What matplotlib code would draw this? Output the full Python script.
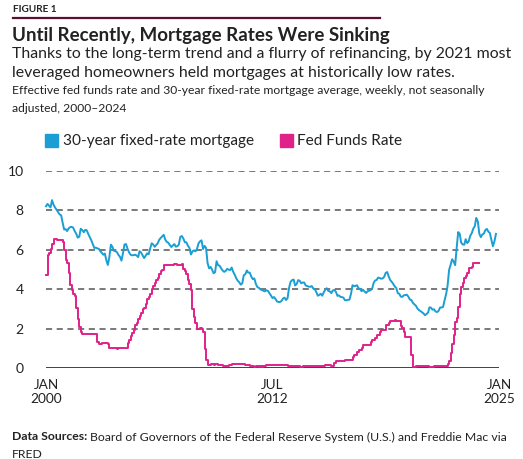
import numpy as np
import pandas as pd
import matplotlib
matplotlib.use("Agg")
import matplotlib.pyplot as plt
import matplotlib.dates as mdates

# 30-year fixed-rate mortgage, monthly average (%), Jan 2000 - Nov 2024
mortgage = [
    8.21, 8.33, 8.24, 8.15, 8.52, 8.29, 8.15, 8.03, 7.91, 7.80, 7.75, 7.38,
    7.03, 7.05, 6.95, 7.08, 7.15, 7.16, 7.13, 6.95, 6.82, 6.62, 6.66, 7.07,
    7.00, 6.89, 7.01, 6.99, 6.81, 6.65, 6.49, 6.29, 6.09, 6.11, 6.07, 6.05,
    5.92, 5.84, 5.75, 5.81, 5.48, 5.23, 5.63, 6.26, 6.15, 5.95, 5.93, 5.88,
    5.74, 5.64, 5.45, 5.83, 6.27, 6.29, 6.06, 5.87, 5.75, 5.72, 5.73, 5.75,
    5.71, 5.63, 5.93, 5.86, 5.72, 5.58, 5.70, 5.82, 5.77, 6.07, 6.33, 6.27,
    6.15, 6.25, 6.32, 6.51, 6.60, 6.68, 6.76, 6.52, 6.40, 6.36, 6.24, 6.14,
    6.22, 6.29, 6.16, 6.18, 6.26, 6.66, 6.70, 6.57, 6.38, 6.38, 6.21, 6.10,
    5.76, 5.92, 5.97, 5.92, 6.04, 6.32, 6.43, 6.48, 6.04, 6.20, 6.09, 5.33,
    5.06, 5.13, 5.00, 4.81, 4.86, 5.42, 5.22, 5.19, 5.06, 4.95, 4.88, 4.93,
    5.03, 4.99, 4.97, 5.10, 4.89, 4.74, 4.56, 4.43, 4.35, 4.23, 4.30, 4.71,
    4.76, 4.95, 4.84, 4.84, 4.64, 4.51, 4.55, 4.27, 4.11, 4.07, 3.99, 3.96,
    3.92, 3.89, 3.95, 3.91, 3.80, 3.68, 3.55, 3.60, 3.50, 3.38, 3.35, 3.35,
    3.41, 3.53, 3.57, 3.45, 3.54, 4.07, 4.37, 4.46, 4.49, 4.19, 4.26, 4.46,
    4.43, 4.30, 4.34, 4.34, 4.19, 4.16, 4.13, 4.12, 4.16, 4.04, 4.00, 3.86,
    3.67, 3.71, 3.77, 3.67, 3.84, 3.98, 4.05, 3.91, 3.89, 3.80, 3.94, 3.96,
    3.87, 3.66, 3.69, 3.61, 3.60, 3.57, 3.44, 3.44, 3.46, 3.47, 3.77, 4.20,
    4.15, 4.17, 4.20, 4.05, 4.01, 3.90, 3.97, 3.88, 3.81, 3.90, 3.92, 3.95,
    4.03, 4.33, 4.44, 4.47, 4.59, 4.57, 4.53, 4.55, 4.63, 4.83, 4.87, 4.64,
    4.46, 4.37, 4.27, 4.14, 4.07, 3.80, 3.77, 3.62, 3.61, 3.69, 3.70, 3.72,
    3.62, 3.47, 3.45, 3.31, 3.23, 3.16, 3.02, 2.94, 2.89, 2.83, 2.77, 2.68,
    2.74, 2.81, 3.08, 3.06, 2.96, 2.98, 2.87, 2.84, 2.90, 3.07, 3.07, 3.10,
    3.45, 3.76, 4.17, 4.98, 5.23, 5.52, 5.41, 5.22, 6.11, 6.90, 6.81, 6.36,
    6.27, 6.26, 6.54, 6.34, 6.43, 6.71, 6.84, 7.07, 7.20, 7.62, 7.44, 6.82,
    6.64, 6.78, 6.82, 7.00, 7.06, 6.92, 6.85, 6.50, 6.18, 6.43, 6.81,
]

# Effective federal funds rate, monthly (%), Jan 2000 - Dec 2023
fed_funds = [
    4.70, 5.73, 5.85, 6.02, 6.27, 6.53, 6.54, 6.50, 6.52, 6.51, 6.51, 6.40,
    5.98, 5.49, 5.31, 4.80, 4.21, 3.97, 3.77, 3.65, 3.07, 2.49, 2.09, 1.82,
    1.73, 1.74, 1.73, 1.75, 1.75, 1.75, 1.73, 1.74, 1.75, 1.75, 1.34, 1.24,
    1.24, 1.26, 1.25, 1.26, 1.26, 1.22, 1.01, 1.03, 1.01, 1.01, 1.00, 0.98,
    1.00, 1.01, 1.00, 1.00, 1.00, 1.03, 1.26, 1.43, 1.61, 1.76, 1.93, 2.16,
    2.28, 2.50, 2.63, 2.79, 3.00, 3.04, 3.26, 3.50, 3.62, 3.78, 4.00, 4.16,
    4.29, 4.49, 4.59, 4.79, 4.94, 4.99, 5.24, 5.25, 5.25, 5.25, 5.25, 5.24,
    5.25, 5.26, 5.26, 5.25, 5.25, 5.25, 5.26, 5.02, 4.94, 4.76, 4.49, 4.24,
    3.94, 2.98, 2.61, 2.28, 1.98, 2.00, 2.01, 2.00, 1.81, 0.97, 0.39, 0.16,
    0.15, 0.22, 0.18, 0.15, 0.18, 0.21, 0.16, 0.16, 0.15, 0.12, 0.12, 0.12,
    0.11, 0.13, 0.16, 0.20, 0.20, 0.18, 0.18, 0.19, 0.19, 0.19, 0.19, 0.18,
    0.17, 0.16, 0.14, 0.10, 0.09, 0.09, 0.07, 0.10, 0.08, 0.07, 0.08, 0.07,
    0.08, 0.10, 0.13, 0.14, 0.16, 0.16, 0.16, 0.13, 0.14, 0.16, 0.16, 0.16,
    0.14, 0.15, 0.14, 0.15, 0.11, 0.09, 0.09, 0.08, 0.08, 0.09, 0.08, 0.09,
    0.07, 0.07, 0.08, 0.09, 0.09, 0.10, 0.09, 0.09, 0.09, 0.09, 0.09, 0.12,
    0.11, 0.11, 0.11, 0.12, 0.12, 0.13, 0.13, 0.14, 0.14, 0.12, 0.12, 0.24,
    0.34, 0.38, 0.36, 0.37, 0.37, 0.38, 0.39, 0.40, 0.40, 0.40, 0.41, 0.54,
    0.65, 0.66, 0.79, 0.90, 0.91, 1.04, 1.15, 1.16, 1.15, 1.15, 1.16, 1.30,
    1.41, 1.42, 1.51, 1.69, 1.70, 1.82, 1.91, 1.91, 1.95, 2.19, 2.20, 2.27,
    2.40, 2.40, 2.41, 2.42, 2.39, 2.38, 2.40, 2.13, 2.04, 1.83, 1.55, 1.55,
    1.55, 1.58, 0.65, 0.05, 0.05, 0.08, 0.09, 0.10, 0.09, 0.09, 0.09, 0.09,
    0.09, 0.08, 0.07, 0.07, 0.06, 0.08, 0.10, 0.09, 0.08, 0.08, 0.08, 0.08,
    0.08, 0.08, 0.20, 0.33, 0.77, 1.21, 1.68, 2.33, 2.56, 3.08, 3.78, 4.10,
    4.33, 4.57, 4.65, 4.83, 5.06, 5.08, 5.12, 5.33, 5.33, 5.33, 5.33, 5.33,
]

y_ticks = [0, 2, 4, 6, 8, 10]
x_ticks = ["2000-01-01", "2012-07-01", "2025-01-01"]
x_tick_labels = ["JAN\n2000", "JUL\n2012", "JAN\n2025"]

BLUE = "#1a9ed4"
PINK = "#e0218a"
TEXT = "#222222"

W, H = 523, 459
plt.rcParams["font.family"] = ["Lato", "DejaVu Sans"]

fig = plt.figure(figsize=(W / 100, H / 100), dpi=100)


def px(x, y):
    return x / W, 1 - y / H


mort_dates = pd.date_range("2000-01-01", periods=len(mortgage), freq="MS")
fed_dates = pd.date_range("2000-01-01", periods=len(fed_funds), freq="MS")

left, right, top, bottom = 46, 499, 171, 368
ax = fig.add_axes([left / W, (H - bottom) / H, (right - left) / W, (bottom - top) / H])
ax.set_facecolor("none")

for v in y_ticks[1:]:
    ax.axhline(v, color="#555555", lw=1.1, ls=(0, (4, 3)), zorder=1)
ax.axhline(0, color="#222222", lw=1.2, zorder=3)

ax.plot(mort_dates, mortgage, color=BLUE, lw=1.4, zorder=4, clip_on=False)
ax.plot(fed_dates, fed_funds, color=PINK, lw=1.4, drawstyle="steps-post",
        zorder=5, clip_on=False)

ax.set_xlim(pd.Timestamp("2000-01-01"), pd.Timestamp("2025-01-01"))
ax.set_ylim(0, 10)
ax.set_yticks(y_ticks)
ax.set_yticklabels([str(v) for v in y_ticks], fontsize=10, color=TEXT)
ax.set_xticks([pd.Timestamp(t) for t in x_ticks])
ax.set_xticklabels(x_tick_labels, fontsize=9.8, color=TEXT, linespacing=1.2)
ax.tick_params(axis="both", length=0)
ax.tick_params(axis="y", pad=16)
ax.tick_params(axis="x", pad=8)
for s in ax.spines.values():
    s.set_visible(False)

# header
fig.text(*px(13, 10), "FIGURE 1", fontsize=7.2, fontweight="bold", color=TEXT,
         va="center", ha="left")
fig.add_artist(plt.Line2D([13 / W, 380 / W], [1 - 17.5 / H, 1 - 17.5 / H],
                          color="#5a0f2e", lw=1.6))
fig.text(*px(12, 35), "Until Recently, Mortgage Rates Were Sinking", fontsize=13.5,
         fontweight="bold", color=TEXT, va="center", ha="left")
fig.text(*px(12, 54), "Thanks to the long-term trend and a flurry of refinancing, by 2021 most",
         fontsize=11.4, color=TEXT, va="center", ha="left")
fig.text(*px(12, 73), "leveraged homeowners held mortgages at historically low rates.",
         fontsize=11.4, color=TEXT, va="center", ha="left")
fig.text(*px(12, 91), "Effective fed funds rate and 30-year fixed-rate mortgage average, weekly, not seasonally",
         fontsize=8.7, color=TEXT, va="center", ha="left")
fig.text(*px(12, 108), "adjusted, 2000\u20132024",
         fontsize=8.7, color=TEXT, va="center", ha="left")

# legend
fig.add_artist(plt.Rectangle(px(45, 147), 13 / W, 13 / H, color=BLUE))
fig.text(*px(63, 141), "30-year fixed-rate mortgage", fontsize=11.1, color=TEXT,
         va="center", ha="left")
fig.add_artist(plt.Rectangle(px(280, 147), 13 / W, 13 / H, color=PINK))
fig.text(*px(297, 141), "Fed Funds Rate", fontsize=11.1, color=TEXT,
         va="center", ha="left")

# footer
fig.text(*px(12, 437), "Data Sources:", fontsize=8.8, fontweight="bold", color=TEXT,
         va="center", ha="left")
fig.text(*px(90, 437),
         "Board of Governors of the Federal Reserve System (U.S.) and Freddie Mac via",
         fontsize=8.8, color=TEXT, va="center", ha="left")
fig.text(*px(12, 455), "FRED", fontsize=8.8, color=TEXT, va="center", ha="left")

fig.savefig("out.png", dpi=100)
